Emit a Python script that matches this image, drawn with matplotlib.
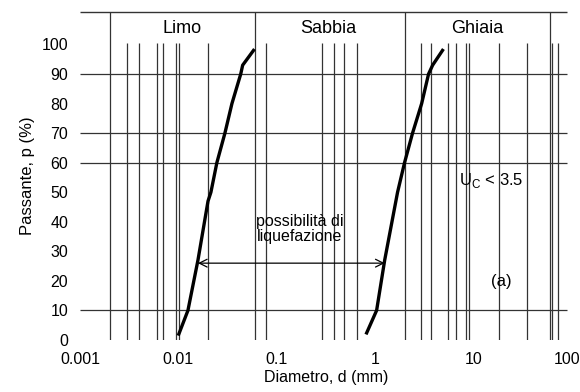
import numpy as np
import matplotlib.pyplot as plt
from matplotlib.transforms import ScaledTranslation

plt.rcParams['font.family'] = ['Liberation Sans', 'DejaVu Sans']

# curva granulometrica sinistra (limite fine) e destra (limite grossolano)
d_fine = [0.0101, 0.0125, 0.0158, 0.0200, 0.0214, 0.0246, 0.0297, 0.035, 0.043, 0.045, 0.058]
p_fine = [2, 10, 27, 47, 50, 60, 70, 80, 90, 93, 98]
d_coarse = [0.82, 1.035, 1.25, 1.69, 1.99, 2.40, 2.97, 3.49, 3.84, 4.84]
p_coarse = [2.4, 10, 27, 50, 60, 70, 80, 90, 93, 98]

# griglia verticale
grid_x = [0.003, 0.004, 0.006, 0.007, 0.0094, 0.0101, 0.02, 0.078,
          0.29, 0.38, 0.48, 0.66, 2.9, 3.7, 5.5, 6.6, 8.3, 8.9, 18, 35, 63, 73]
grid_y = [10, 60, 70, 90]
limiti = [0.002, 0.06, 2, 60]
classi = ['Limo', 'Sabbia', 'Ghiaia']
classi_x = [0.011, 0.33, 11]

xticks = [0.001, 0.01, 0.1, 1, 10, 100]
xticklabels = ['0.001', '0.01', '0.1', '1', '10', '100']
yticks = list(range(0, 101, 10))

fig = plt.figure(figsize=(5.8, 3.92), dpi=100)
ax = fig.add_axes([0.138, 0.1327, 0.848, 0.8367])
ax.set_xscale('log')
ax.set_xlim(0.001, 100)
ax.set_ylim(0, 111)
for s in ax.spines.values():
    s.set_visible(False)

col = '#333333'
ax.vlines(grid_x, 0, 100.5, color=col, lw=0.9)
ax.vlines(limiti, 0, 111, color=col, lw=0.9)
ax.hlines(grid_y, 0.001, 90, color=col, lw=0.9)
ax.hlines(111, 0.001, 90, color=col, lw=1.0, clip_on=False)

for nome, xc in zip(classi, classi_x):
    ax.text(xc, 105.3, nome, ha='center', va='center', fontsize=13)

ax.plot(d_fine, p_fine, color='black', lw=2.4)
ax.plot(d_coarse, p_coarse, color='black', lw=2.4)

ax.annotate('', xy=(0.0158, 26), xytext=(1.25, 26),
            arrowprops=dict(arrowstyle='<->', color='black', lw=0.9,
                            shrinkA=0, shrinkB=0, mutation_scale=14))
ax.text(0.17, 37.5, 'possibilità di\nliquefazione', ha='center', va='center',
        fontsize=11.5, linespacing=1.0)
ax.text(7.2, 54, r'U$_\mathregular{C}$ < 3.5', ha='left', va='center', fontsize=12)
ax.text(19, 19.7, '(a)', ha='center', va='center', fontsize=12)

ax.set_xticks(xticks)
ax.set_xticklabels(xticklabels)
ax.minorticks_off()
ax.set_yticks(yticks)
ax.tick_params(length=0, labelsize=11.5, pad=9)
ax.tick_params(axis='y', pad=8.5)
# l'ultima etichetta "100" sta al bordo destro: la teniamo dentro la figura
ultima = ax.get_xticklabels()[-1]
ultima.set_ha('right')
ultima.set_transform(ultima.get_transform() + ScaledTranslation(6/72, 0, fig.dpi_scale_trans))
ax.set_xlabel('Diametro, d (mm)', fontsize=11.5, labelpad=2)
ax.set_ylabel('Passante, p (%)', fontsize=12, labelpad=5)

plt.savefig('out.png', dpi=100)
